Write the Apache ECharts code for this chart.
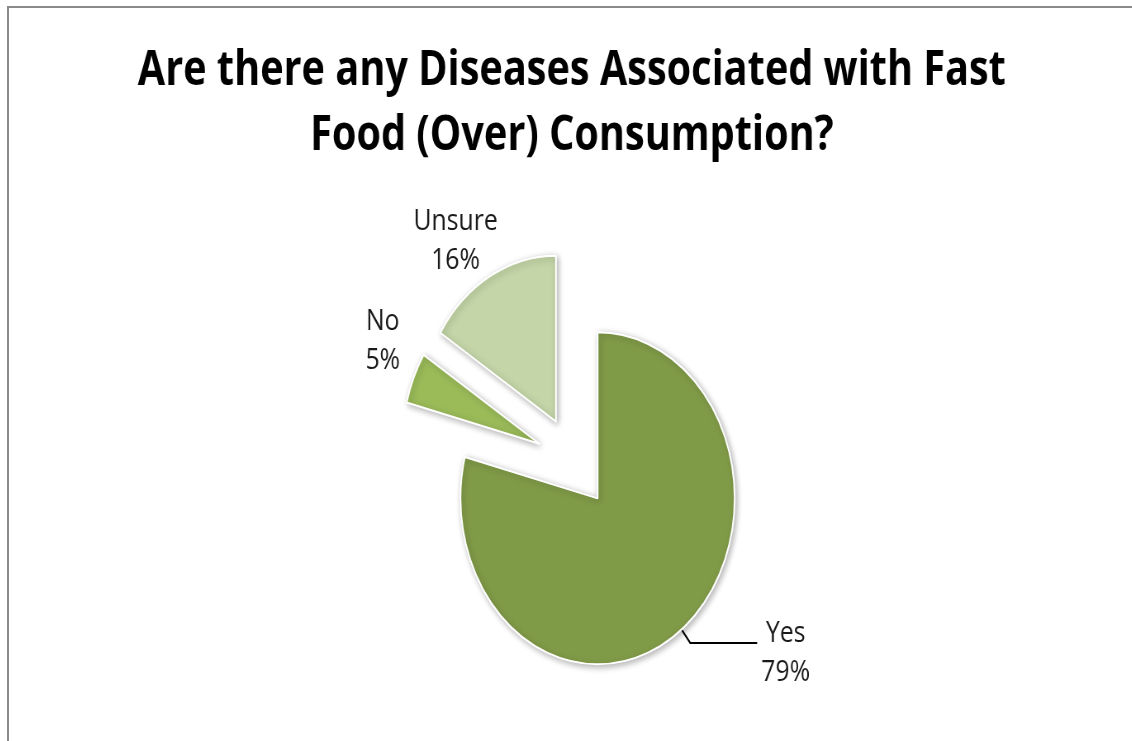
<!DOCTYPE html>
<html><head><meta charset="utf-8">
<script src="https://cdn.jsdelivr.net/npm/echarts@6/dist/echarts.min.js"></script>
<style>
html,body{margin:0;padding:0;background:#fff;overflow:hidden}
#wrap{position:relative;width:1132px;height:741px;overflow:hidden;background:#fff}
#lineTop{position:absolute;left:7px;top:6px;width:1125px;height:2px;background:#8a8a8a}
#lineLeft{position:absolute;left:7px;top:6px;width:2px;height:735px;background:#8a8a8a}
#chart{position:absolute;left:6px;top:0;width:1362px;height:741px;transform:scaleX(0.826);transform-origin:0 0}
</style></head><body>
<div id="wrap">
<div id="lineTop"></div>
<div id="lineLeft"></div>
<div id="chart"></div>
</div>
<script>
const titleText = 'Are there any Diseases Associated with Fast\nFood (Over) Consumption?';
const categories = ['Yes', 'No', 'Unsure'];
const values = [79, 5, 16];
const colors = ['#809b48', '#9bbb59', '#c4d6a8'];

const chart = echarts.init(document.getElementById('chart'), null, {renderer: 'canvas'});

const perItem = [
  {label: {padding: [20, 0, 0, 0]}, labelLine: {show: true, length: 17, length2: 81}},
  {labelLine: {show: false, length: 20, length2: 0}},
  {labelLine: {show: false, length: 20, length2: 0}}
];
const labelShift = [null, {dx: 7, dy: -29}, {dx: 24, dy: -18}];

const option = {
  backgroundColor: 'transparent',
  animation: false,
  title: {
    text: titleText,
    left: 692 - 7,
    top: 39,
    padding: 0,
    textAlign: 'center',
    textStyle: {fontFamily: 'Open Sans', fontWeight: 'bold', fontSize: 48, lineHeight: 65, color: '#000'}
  },
  series: [{
    type: 'pie',
    center: [688, 462],
    radius: 166,
    startAngle: 90,
    clockwise: true,
    selectedMode: 'multiple',
    selectedOffset: 46,
    avoidLabelOverlap: false,
    emphasis: {disabled: true},
    itemStyle: {borderColor: '#ffffff', borderWidth: 2, shadowBlur: 7, shadowColor: 'rgba(0,0,0,0.3)', shadowOffsetX: 2, shadowOffsetY: 2},
    label: {
      show: true,
      position: 'outside',
      formatter: '{t|{b}}\n{t|{c}%}',
      rich: {t: {fontFamily: 'Open Sans', fontSize: 30, lineHeight: 39, color: '#1a1a1a', align: 'center'}}
    },
    labelLine: {lineStyle: {color: '#000', width: 2}},
    labelLayout: function (p) {
      const s = labelShift[p.dataIndex];
      return s ? {dx: s.dx, dy: s.dy} : {};
    },
    data: categories.map(function (n, i) {
      return Object.assign({name: n, value: values[i], selected: true, itemStyle: {color: colors[i]}}, perItem[i]);
    })
  }]
};
chart.setOption(option);
</script>
</body></html>
